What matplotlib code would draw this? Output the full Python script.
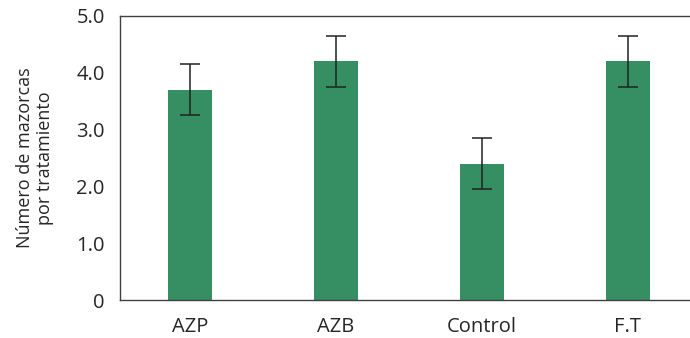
import numpy as np
import matplotlib
matplotlib.use("Agg")
import matplotlib.pyplot as plt

# treatments and mean ears per treatment
categories = ["AZP", "AZB", "Control", "F.T"]
values = [3.7, 4.2, 2.4, 4.2]
errors = [0.45, 0.45, 0.45, 0.45]
yticks = [0, 1, 2, 3, 4, 5]
ytick_labels = ["0", "1.0", "2.0", "3.0", "4.0", "5.0"]


def main():
    plt.rcParams["font.family"] = ["Open Sans", "DejaVu Sans"]
    plt.rcParams["font.size"] = 14.5

    fig = plt.figure(figsize=(6.9, 3.38), dpi=100)
    ax = fig.add_axes([0.1739, 0.1124, 0.8261, 0.8403])

    x = np.arange(len(categories))
    ax.bar(x, values, width=0.30, color="#358f62", zorder=2)
    ax.errorbar(x, values, yerr=errors, fmt="none", ecolor="#222222",
                elinewidth=1.1, capsize=7, capthick=1.1, zorder=3)

    ax.set_xlim(-0.479, 3.425)
    ax.set_ylim(0, 5)
    ax.set_xticks(x)
    ax.set_xticklabels(categories, color="#262626")
    ax.set_yticks(yticks)
    ax.set_yticklabels(ytick_labels, color="#262626")
    ax.tick_params(axis="both", length=0)
    ax.tick_params(axis="y", pad=11)
    ax.tick_params(axis="x", pad=12)

    for side in ["left", "bottom", "top"]:
        ax.spines[side].set_color("#404040")
        ax.spines[side].set_linewidth(1.0)
    ax.spines["right"].set_visible(False)

    ax.set_ylabel("Número de mazorcas\npor tratamiento", color="#262626",
                  fontsize=13, labelpad=16, linespacing=1.15)

    fig.savefig("out.png", dpi=100)


if __name__ == "__main__":
    main()
